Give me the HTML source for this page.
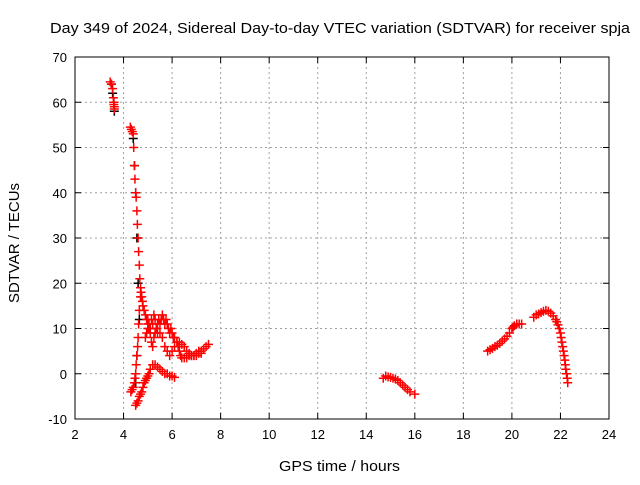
<!DOCTYPE html>
<html><head><meta charset="utf-8"><style>
body{margin:0;background:#fff;}
svg text{font-family:"Liberation Sans",sans-serif;fill:#000;}
</style></head><body>
<svg id="chart" width="640" height="480" xmlns="http://www.w3.org/2000/svg">
<rect width="640" height="480" fill="#fff"/>
<text x="50" y="33" font-size="15" textLength="580" lengthAdjust="spacingAndGlyphs">Day 349 of 2024, Sidereal Day-to-day VTEC variation (SDTVAR) for receiver spja</text>
<text x="279" y="471" font-size="15" textLength="121" lengthAdjust="spacingAndGlyphs">GPS time / hours</text>
<text transform="translate(19,303) rotate(-90)" font-size="15" textLength="120" lengthAdjust="spacingAndGlyphs">SDTVAR / TECUs</text>
<g id="grid"></g><g id="ticks"></g><g id="marks"></g>
<rect x="75" y="57" width="534" height="362" fill="none" stroke="#000" stroke-width="1"/>
</svg>
<script>
const xTicks=[2,4,6,8,10,12,14,16,18,20,22,24];
const yTicks=[-10,0,10,20,30,40,50,60,70];
const blackX=[3.5,3.55,3.6,3.62,4.4,4.45,4.5,4.55,4.6,4.65,4.55,4.5];
const blackY=[64,62,60,58,52,46,40,30,20,12,4,-2];
const redX=[3.45,3.5,3.55,3.58,3.6,3.6,3.62,3.62,
4.28,4.32,4.36,4.4,4.42,4.45,4.47,4.5,4.52,4.55,4.57,4.6,4.62,4.65,4.67,4.7,4.72,4.75,4.78,4.8,4.85,4.9,4.95,5.0,
4.7,4.65,4.62,4.6,4.58,4.55,4.52,4.5,4.47,4.45,4.4,4.35,4.3,
4.5,4.55,4.6,4.65,4.7,4.75,4.8,4.85,4.9,4.95,5.0,5.05,5.1,5.2,5.3,5.4,5.5,5.6,5.7,5.8,5.9,6.0,6.1,
4.9,4.95,5.0,5.05,5.1,5.15,5.2,5.25,5.3,5.35,5.4,5.45,5.5,5.55,5.6,5.65,5.7,5.75,5.8,5.85,5.9,5.95,6.0,6.05,6.1,6.2,6.3,6.4,6.5,6.6,6.7,6.8,6.9,7.0,7.1,7.2,7.3,7.4,7.5,
5.0,5.05,5.1,5.15,5.2,5.25,5.3,5.35,5.4,5.5,5.6,5.7,5.8,5.9,6.0,6.1,6.2,6.25,6.3,6.35,6.4,6.5,6.6,6.7,6.8,6.9,7.0,7.1,7.2,
14.7,14.8,14.9,15.0,15.1,15.2,15.3,15.4,15.5,15.6,15.7,15.8,16.0,
19.0,19.1,19.2,19.3,19.4,19.5,19.6,19.7,19.8,19.9,20.0,20.05,20.1,20.2,20.3,20.4,20.9,21.0,21.1,21.2,21.3,21.4,21.5,21.6,21.7,21.8,21.85,21.9,21.95,22.0,22.03,22.06,22.09,22.12,22.15,22.18,22.2,22.22,22.25,22.28,22.3];
const redY=[64.5,64,63,61,60,59.5,59,58.5,
54.5,54,53.5,53,50,46,43,40,39,36,33,30,27,24,21,19,18,17,16,15,14,13,12,11,
17,14,11,8,6,4,2,0,-1,-2,-3,-3.5,-4,
-7,-6.5,-6,-5,-4.5,-4,-3,-2,-1.5,-1,-0.5,0,1,2,2,1.5,1,0.5,0,0,-0.5,-0.5,-0.8,
8,9,10,11,10,12,11,13,12,10,11,12,11,12,13,12,11,12,11,10,9,10,9,8,8,7,7,6.5,6,5,4.5,4,4,4,4.5,5,5.5,6,6.5,
12,10,9,7,6,8,9,10,9,9,8,6,5,4,5,6,7,6,5,4,3.5,3.5,3.5,4,4,4,4.5,5,4.5,
-1,-0.5,-0.7,-0.8,-1,-1.2,-1.5,-2,-2.5,-3,-3.5,-4,-4.5,
5,5.3,5.6,6,6.3,6.7,7.2,7.7,8.3,9,10,10.3,10.6,11,11,11,12.5,13,13.2,13.5,13.8,14,13.8,13.4,12.8,12,11.5,10.8,10,9,8,7,6,5,4,3,2,1,0,-1,-2];

const L=75,R=609,T=57,B=419;
function sx(v){return L+(v-2)/22*(R-L);}
function sy(v){return B-(v+10)/80*(B-T);}
const NS="http://www.w3.org/2000/svg";
function mk(tag,attrs,parent){const e=document.createElementNS(NS,tag);for(const k in attrs)e.setAttribute(k,attrs[k]);parent.appendChild(e);return e;}
const grid=document.getElementById('grid'),ticks=document.getElementById('ticks'),marks=document.getElementById('marks');
xTicks.forEach(t=>{const x=sx(t);
 if(t>2&&t<24){const g=mk('line',{x1:x,x2:x,y1:T,y2:B,stroke:'#a0a0a0','stroke-dasharray':'2,3'},grid);
 
 }
 mk('line',{x1:x,x2:x,y1:B,y2:B-6,stroke:'#000'},ticks);mk('line',{x1:x,x2:x,y1:T,y2:T+6,stroke:'#000'},ticks);
 const tx=mk('text',{x:x,y:B+20,'font-size':13,'text-anchor':'middle'},ticks);tx.textContent=t;
 
 });
yTicks.forEach(t=>{const y=sy(t);
 if(t>-10&&t<70){const g=mk('line',{x1:L,x2:R,y1:y,y2:y,stroke:'#a0a0a0','stroke-dasharray':'2,3'},grid);
 
 }
 mk('line',{x1:L,x2:L+6,y1:y,y2:y,stroke:'#000'},ticks);mk('line',{x1:R,x2:R-6,y1:y,y2:y,stroke:'#000'},ticks);
 const tx=mk('text',{x:L-8,y:y+5,'font-size':13,'text-anchor':'end'},ticks);tx.textContent=t;
 
 });
function plus(x,y,c,name){const p=mk('path',{d:`M${x-4.5},${y}h9M${x},${y-4.5}v9`,stroke:c,'stroke-width':1.5,fill:'none'},marks);
 
 }
blackX.forEach((v,i)=>plus(sx(v),sy(blackY[i]),'#000','black-point'));
redX.forEach((v,i)=>plus(sx(v),sy(redY[i]),'#ff0000','red-point'));
</script>
</body></html>
